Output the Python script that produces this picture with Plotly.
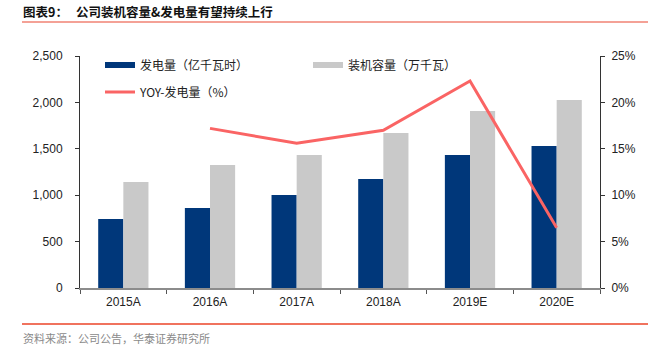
import plotly.graph_objects as go

categories = ["2015A", "2016A", "2017A", "2018A", "2019E", "2020E"]
generation = [743, 862, 1002, 1175, 1433, 1530]        # 发电量（亿千瓦时）
capacity = [1142, 1325, 1433, 1670, 1907, 2026]        # 装机容量（万千瓦）
yoy_cats = ["2016A", "2017A", "2018A", "2019E", "2020E"]
yoy = [17.2, 15.6, 17.0, 22.3, 6.5]                    # YOY-发电量（%）

left_ticks = [0, 500, 1000, 1500, 2000, 2500]
right_ticks = [0, 5, 10, 15, 20, 25]
right_labels = ["0%", "5%", "10%", "15%", "20%", "25%"]

NAVY = "#00377A"
GRAY = "#C9C9C9"
RED = "#FA6464"
CJK = "Noto Sans CJK SC"
LAT = "Liberation Sans"

W, H = 656, 346
L, R, T, B = 80, 56, 56, 58
PW, PH = W - L - R, H - T - B

def px(x):
    return (x - L) / PW

def py(y):
    return (H - B - y) / PH

fig = go.Figure()
fig.add_trace(go.Bar(x=categories, y=generation, marker_color=NAVY,
                     marker_line_width=0, showlegend=False, name="发电量（亿千瓦时）"))
fig.add_trace(go.Bar(x=categories, y=capacity, marker_color=GRAY,
                     marker_line_width=0, showlegend=False, name="装机容量（万千瓦）"))
fig.add_trace(go.Scatter(x=yoy_cats, y=yoy, yaxis="y2", mode="lines",
                         line=dict(color=RED, width=3), showlegend=False,
                         name="YOY-发电量（%）"))

# legend entries (wide swatches like the reference)
fig.add_trace(go.Scatter(x=[None], y=[None], mode="lines", name="发电量（亿千瓦时）",
                         line=dict(color=NAVY, width=6), legend="legend"))
fig.add_trace(go.Scatter(x=[None], y=[None], mode="lines", name="装机容量（万千瓦）",
                         line=dict(color=GRAY, width=6), legend="legend2"))
fig.add_trace(go.Scatter(x=[None], y=[None], mode="lines", name="YOY-发电量（%）",
                         line=dict(color=RED, width=3), legend="legend3"))

leg_common = dict(bgcolor="rgba(0,0,0,0)", borderwidth=0,
                  font=dict(family=CJK, size=12, color="#222"),
                  xanchor="left", yanchor="middle", xref="paper", yref="paper")

fig.update_layout(
    width=W, height=H,
    margin=dict(l=L, r=R, t=T, b=B, autoexpand=False),
    paper_bgcolor="white", plot_bgcolor="white",
    barmode="group", bargap=0.42, bargroupgap=0,
    showlegend=True,
    legend=dict(x=px(100), y=py(65), **leg_common),
    legend2=dict(x=px(308), y=py(65), **leg_common),
    legend3=dict(x=px(100), y=py(92), **leg_common),
    xaxis=dict(
        type="category", tickson="boundaries", ticks="outside", ticklen=4,
        tickcolor="#555", showline=True, linecolor="#8C8C8C", linewidth=2,
        showgrid=False, tickangle=0, automargin=False, ticklabelstandoff=2,
        tickfont=dict(family=LAT, size=12, color="#222"),
    ),
    yaxis=dict(
        range=[0, 2500], tickvals=left_ticks, tickformat=",", ticks="outside",
        ticklen=4, tickcolor="#333", showline=True, linecolor="#333", linewidth=1,
        showgrid=False, zeroline=False, ticklabelstandoff=10, automargin=False,
        tickfont=dict(family=LAT, size=12, color="#222"),
    ),
    yaxis2=dict(
        range=[0, 25], tickvals=right_ticks, ticktext=right_labels, overlaying="y",
        side="right", ticks="outside", ticklen=4, tickcolor="#333",
        showline=True, linecolor="#333", linewidth=1, showgrid=False,
        zeroline=False, ticklabelstandoff=4, automargin=False,
        tickfont=dict(family=LAT, size=12, color="#222"),
    ),
    shapes=[
        dict(type="line", xref="paper", yref="paper", x0=px(22), x1=px(648),
             y0=py(22), y1=py(22), line=dict(color="#F4A196", width=2)),
        dict(type="line", xref="paper", yref="paper", x0=px(22), x1=px(648),
             y0=py(324), y1=py(324), line=dict(color="#F0735E", width=2)),
    ],
    annotations=[
        dict(text="<b>图表9：</b>", xref="paper", yref="paper", x=px(21), y=py(12),
             xanchor="left", yanchor="middle", showarrow=False,
             font=dict(family=CJK, size=12.5, color="#111")),
        dict(text="<b>公司装机容量&发电量有望持续上行</b>", xref="paper", yref="paper",
             x=px(74), y=py(12), xanchor="left", yanchor="middle", showarrow=False,
             font=dict(family=CJK, size=12.5, color="#111")),
        dict(text="资料来源：公司公告，华泰证券研究所", xref="paper", yref="paper",
             x=px(21), y=py(338), xanchor="left", yanchor="middle", showarrow=False,
             font=dict(family=CJK, size=11, color="#8A8A8A")),
    ],
)

fig.write_html("out.html")
